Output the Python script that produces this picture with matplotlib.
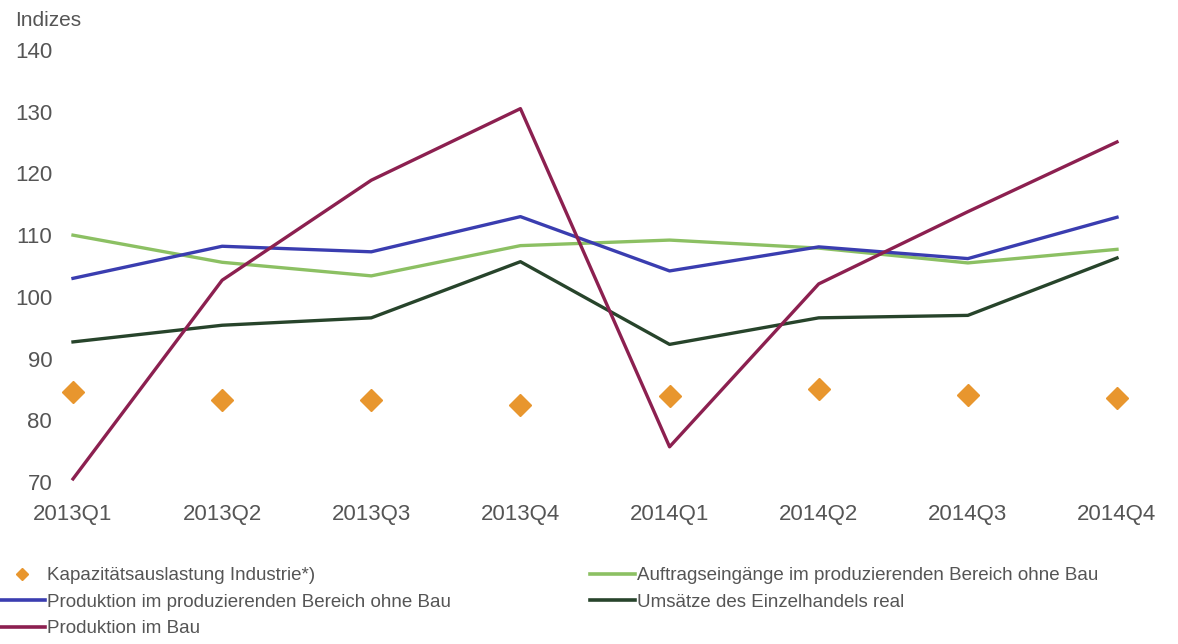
import matplotlib.pyplot as plt
from matplotlib.lines import Line2D

plt.rcParams['font.family'] = ['Liberation Sans', 'DejaVu Sans']

quarters = ["2013Q1", "2013Q2", "2013Q3", "2013Q4", "2014Q1", "2014Q2", "2014Q3", "2014Q4"]
kapazitaet = [84.6, 83.3, 83.3, 82.5, 84.0, 85.1, 84.1, 83.6]
auftrag = [110.0, 105.6, 103.4, 108.3, 109.2, 107.9, 105.5, 107.7]
prod_ohne_bau = [103.0, 108.2, 107.3, 113.0, 104.2, 108.1, 106.2, 112.9]
umsatz = [92.7, 95.4, 96.6, 105.7, 92.3, 96.6, 97.0, 106.3]
prod_bau = [70.5, 102.7, 118.9, 130.5, 75.7, 102.1, 113.8, 125.1]

c_orange = "#e8962e"
c_lgreen = "#8cc063"
c_blue = "#3a3db0"
c_dgreen = "#27442b"
c_purple = "#8c2050"
txt = "#555555"

fig = plt.figure(figsize=(11.78, 6.44), dpi=100)
ax = fig.add_axes([73 / 1178, 1 - 482 / 644, (1117 - 73) / 1178, (482 - 50) / 644])

x = range(len(quarters))
lw = 2.4
ax.plot(x, auftrag, color=c_lgreen, lw=lw, clip_on=False)
ax.plot(x, prod_ohne_bau, color=c_blue, lw=lw, clip_on=False)
ax.plot(x, umsatz, color=c_dgreen, lw=lw, clip_on=False)
ax.plot(x, prod_bau, color=c_purple, lw=lw, clip_on=False)
ax.plot(x, kapazitaet, linestyle="none", marker="D", ms=11, color=c_orange,
        mec=c_orange, clip_on=False)

ax.set_xlim(0, 7)
ax.set_ylim(70, 140)
ax.set_yticks(range(70, 141, 10))
ax.set_xticks(list(x))
ax.set_xticklabels(quarters)
for s in ax.spines.values():
    s.set_visible(False)
ax.tick_params(axis="y", length=0, pad=15, labelsize=16, labelcolor=txt)
ax.tick_params(axis="x", length=0, pad=16, labelsize=16, labelcolor=txt)

fig.text(15 / 1178, 1 - 20 / 644, "Indizes", fontsize=15, color=txt, va="center", ha="left")

h1 = [
    Line2D([], [], linestyle="none", marker="D", ms=6, color=c_orange),
    Line2D([], [], color=c_blue, lw=2.6),
    Line2D([], [], color=c_purple, lw=2.6),
]
l1 = ["Kapazitätsauslastung Industrie*)",
      "Produktion im produzierenden Bereich ohne Bau",
      "Produktion im Bau"]
h2 = [Line2D([], [], color=c_lgreen, lw=2.6), Line2D([], [], color=c_dgreen, lw=2.6)]
l2 = ["Auftragseingänge im produzierenden Bereich ohne Bau",
      "Umsätze des Einzelhandels real"]

kw = dict(frameon=False, fontsize=13.5, handlelength=2.4, handletextpad=0.1,
          labelspacing=0.5, borderaxespad=0, borderpad=0, labelcolor=txt)
fig.legend(h1, l1, loc="upper left", bbox_to_anchor=(0.0, 1 - 567 / 644), **kw)
fig.legend(h2, l2, loc="upper left", bbox_to_anchor=(590 / 1178, 1 - 567 / 644), **kw)

fig.savefig("out.png", dpi=100)
